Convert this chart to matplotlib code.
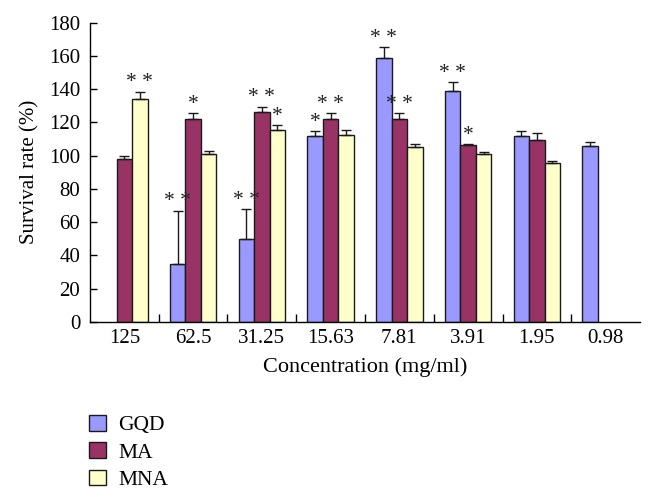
import matplotlib
matplotlib.use("Agg")
import matplotlib.pyplot as plt
import numpy as np

plt.rcParams['font.family'] = ['Liberation Serif', 'DejaVu Serif']

categories = ["125", "62.5", "31.25", "15.63", "7.81", "3.91", "1.95", "0.98"]
series_names = ["GQD", "MA", "MNA"]
gqd = [np.nan, 35, 50, 112, 159, 139, 112, 106]
gqd_err = [0, 32, 18, 2.8, 6.2, 5.4, 2.8, 2]
ma = [98, 122, 126, 122, 122, 106.5, 109.5, np.nan]
ma_err = [2, 3.4, 3.6, 3.4, 3.4, 0.6, 4.2, 0]
mna = [134, 101.2, 115.6, 112.4, 105.2, 100.8, 95.8, np.nan]
mna_err = [4.6, 1.4, 2.6, 3.2, 1.8, 1.4, 1.0, 0]
gqd_sig = ["", "* *", "* *", "*", "* *", "* *", "", ""]
ma_sig = ["", "*", "* *", "* *", "* *", "*", "", ""]
mna_sig = ["* *", "", "*", "", "", "", "", ""]

colors = ["#9999FF", "#993366", "#FFFFCC"]
edge = "#1a1a1a"

fig = plt.figure(figsize=(6.54, 5.0), dpi=100)
ax = fig.add_axes([0.1376, 0.356, 0.841, 0.5986])

x = np.arange(len(categories))
w = 0.225
data = [(gqd, gqd_err, gqd_sig), (ma, ma_err, ma_sig), (mna, mna_err, mna_sig)]
handles = []
for i, (vals, errs, sigs) in enumerate(data):
    pos = x + (i - 1) * w
    v = np.array(vals, dtype=float)
    e = np.array(errs, dtype=float)
    mask = ~np.isnan(v)
    b = ax.bar(pos[mask], v[mask], width=w, color=colors[i], edgecolor=edge,
               linewidth=1.0, zorder=2, label=series_names[i])
    handles.append(b)
    ax.errorbar(pos[mask], v[mask], yerr=[np.zeros(mask.sum()), e[mask]],
                fmt='none', ecolor=edge, elinewidth=1.0, capsize=3.5,
                capthick=1.0, zorder=3)
    for p, val, er, s in zip(pos, v, e, sigs):
        if s:
            ax.text(p, val + er + 2.5, s, ha='center', va='baseline',
                    fontsize=15.5, color='#222222')

ax.set_xlim(-0.5, 7.5)
ax.set_ylim(0, 180)
ax.set_yticks(np.arange(0, 181, 20))
ax.set_xticks(x)
ax.set_xticklabels(categories)
ax.tick_params(axis='x', which='major', length=0, labelsize=15, pad=5)
ax.set_xticks(np.arange(0.5, 7, 1), minor=True)
ax.tick_params(axis='x', which='minor', direction='in', length=6, width=1)
ax.tick_params(axis='y', direction='in', length=5, width=1, labelsize=15, pad=7)
for s in ['top', 'right']:
    ax.spines[s].set_visible(False)
for s in ['left', 'bottom']:
    ax.spines[s].set_linewidth(1.0)
ax.set_xlabel("Concentration (mg/ml)", fontsize=16, labelpad=7)
ax.set_ylabel("Survival rate (%)", fontsize=15, labelpad=7)

fig.legend(handles=handles, labels=series_names, loc='upper left',
           bbox_to_anchor=(89 / 654, 1 - 415 / 500), frameon=False, fontsize=15.5,
           handlelength=0.8, handleheight=0.75, labelspacing=0.32,
           handletextpad=0.55, borderaxespad=0, borderpad=0)

fig.savefig("out.png", dpi=100)
